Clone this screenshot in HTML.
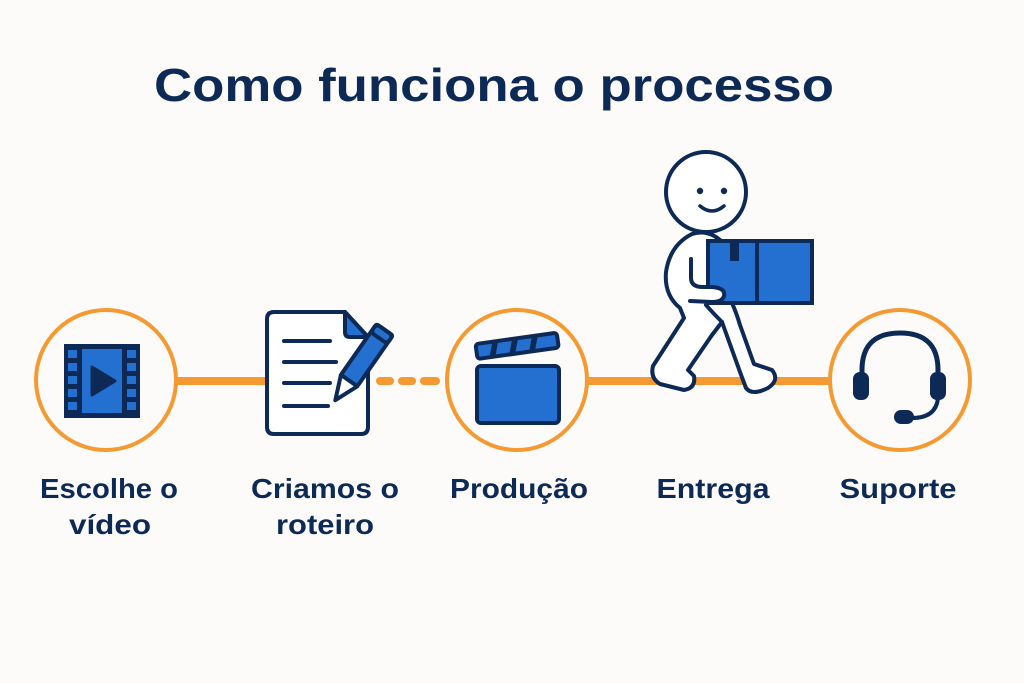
<!DOCTYPE html>
<html><head><meta charset="utf-8"><style>
html,body{margin:0;padding:0;background:#fcfbf9;}
svg{display:block}
text{font-family:"Liberation Sans",sans-serif;font-weight:bold;fill:#0d2a56}
</style></head><body>
<svg width="1024" height="683" viewBox="0 0 1024 683" xmlns="http://www.w3.org/2000/svg">
<rect width="1024" height="683" fill="#fcfbf9"/>
<text x="494" y="101" font-size="46" text-anchor="middle" textLength="680" lengthAdjust="spacingAndGlyphs">Como funciona o processo</text>
<g stroke="#f59a32" stroke-width="8" stroke-linecap="round">
<line x1="176" y1="381" x2="266" y2="381"/>
<line x1="380" y1="381" x2="390" y2="381"/>
<line x1="402" y1="381" x2="412" y2="381"/>
<line x1="424" y1="381" x2="436" y2="381"/>
<line x1="588" y1="381" x2="830" y2="381" stroke-linecap="butt"/>
</g>
<g fill="#fcfbf9" stroke="#f59a32" stroke-width="4">
<circle cx="106" cy="380" r="70"/>
<circle cx="517" cy="380" r="70"/>
<circle cx="900" cy="380" r="70"/>
</g>
<rect x="64" y="344" width="76" height="74" fill="#0d2a56"/>
<rect x="82" y="349" width="40" height="64" fill="#2470d0"/>
<g fill="#2470d0">
<rect x="68" y="350" width="9" height="8"/><rect x="68" y="363" width="9" height="8"/><rect x="68" y="376" width="9" height="8"/><rect x="68" y="389" width="9" height="8"/><rect x="68" y="402" width="9" height="8"/>
<rect x="127" y="350" width="9" height="8"/><rect x="127" y="363" width="9" height="8"/><rect x="127" y="376" width="9" height="8"/><rect x="127" y="389" width="9" height="8"/><rect x="127" y="402" width="9" height="8"/>
</g>
<path d="M92 367 L115 381 L92 395 Z" fill="#0d2a56" stroke="#0d2a56" stroke-width="3" stroke-linejoin="round"/>
<path d="M274 312 H345 L368 337 V427 Q368 434 361 434 H274 Q267 434 267 427 V319 Q267 312 274 312 Z" fill="#fff" stroke="#0d2a56" stroke-width="4"/>
<path d="M345 312 V332 Q345 337 350 337 H368 Z" fill="#2470d0" stroke="#0d2a56" stroke-width="4" stroke-linejoin="round"/>
<g stroke="#0d2a56" stroke-width="4" stroke-linecap="round">
<line x1="284" y1="341" x2="330" y2="341"/><line x1="284" y1="362" x2="336" y2="362"/><line x1="284" y1="383" x2="330" y2="383"/><line x1="284" y1="406" x2="328" y2="406"/>
</g>
<g transform="rotate(35 360 365)">
<rect x="350" y="322" width="20" height="62" rx="2" fill="#2470d0" stroke="#0d2a56" stroke-width="4"/>
<rect x="350" y="322" width="20" height="10" rx="4" fill="#2470d0" stroke="#0d2a56" stroke-width="4"/>
<path d="M350 384 L360 408 L370 384 Z" fill="#fff" stroke="#0d2a56" stroke-width="4" stroke-linejoin="round"/>
</g>
<rect x="477" y="366" width="82" height="57" rx="4" fill="#2470d0" stroke="#0d2a56" stroke-width="4"/>
<g transform="rotate(-8 477 355)">
<rect x="477" y="344" width="82" height="15" rx="3" fill="#2470d0" stroke="#0d2a56" stroke-width="4"/>
<g fill="#0d2a56"><path d="M494 344 h6 l-5 15 h-6z"/><path d="M514 344 h6 l-5 15 h-6z"/><path d="M534 344 h6 l-5 15 h-6z"/></g>
</g>
<!-- walker body -->
<path d="M692 234 Q670 245 666 272 Q664 295 680 308 L684 318 L662 352 L653 366 Q650 378 660 384 L684 390 Q696 388 694 376 L688 370 L712 335 L722 322 L740 372 L746 388 Q752 396 768 388 Q780 380 772 370 L754 364 L740 325 Q734 305 728 296 L725 245 Q710 228 692 234 Z" fill="#fff" stroke="#0d2a56" stroke-width="4" stroke-linejoin="round"/>
<path d="M706 305 Q712 312 722 322" fill="none" stroke="#0d2a56" stroke-width="4" stroke-linecap="round"/>
<circle cx="706" cy="192" r="40" fill="#fff" stroke="#0d2a56" stroke-width="4"/>
<circle cx="700" cy="191" r="3.2" fill="#0d2a56"/><circle cx="724" cy="191" r="3.2" fill="#0d2a56"/>
<path d="M700 206 Q712 216 724 206" fill="none" stroke="#0d2a56" stroke-width="3.5" stroke-linecap="round"/>
<rect x="708" y="241" width="104" height="62" fill="#2470d0" stroke="#0d2a56" stroke-width="4"/>
<line x1="757" y1="241" x2="757" y2="303" stroke="#0d2a56" stroke-width="4"/>
<rect x="730" y="241" width="9" height="20" fill="#0d2a56"/>
<!-- arm -->
<path d="M691 259 V278 Q691 287 703 287 L712 287 Q726 288 724 296 Q722 302 712 302 L690 301 Q674 298 672 284 L672 262 Z" fill="#fff" stroke="none"/>
<path d="M691 259 V278 Q691 287 703 287 L712 287 Q726 288 724 296 Q722 302 712 302 L690 301" fill="none" stroke="#0d2a56" stroke-width="4" stroke-linecap="round" stroke-linejoin="round"/>
<!-- headset -->
<path d="M862 384 V370 Q862 333 900 333 Q938 333 938 370 V384" fill="none" stroke="#0d2a56" stroke-width="5"/>
<rect x="853" y="372" width="16" height="28" rx="7" fill="#0d2a56"/>
<rect x="930" y="372" width="16" height="28" rx="7" fill="#0d2a56"/>
<path d="M938 398 Q936 418 912 418" fill="none" stroke="#0d2a56" stroke-width="4"/>
<rect x="894" y="410" width="20" height="14" rx="7" fill="#0d2a56"/>
<g font-size="28" text-anchor="middle" lengthAdjust="spacingAndGlyphs">
<text x="109" y="498" textLength="138" lengthAdjust="spacingAndGlyphs">Escolhe o</text>
<text x="110" y="534" textLength="82" lengthAdjust="spacingAndGlyphs">vídeo</text>
<text x="325" y="498" textLength="148" lengthAdjust="spacingAndGlyphs">Criamos o</text>
<text x="325" y="534" textLength="98" lengthAdjust="spacingAndGlyphs">roteiro</text>
<text x="519" y="498" textLength="138" lengthAdjust="spacingAndGlyphs">Produção</text>
<text x="713" y="498" textLength="113" lengthAdjust="spacingAndGlyphs">Entrega</text>
<text x="898" y="498" textLength="117" lengthAdjust="spacingAndGlyphs">Suporte</text>
</g>
</svg>
</body></html>
